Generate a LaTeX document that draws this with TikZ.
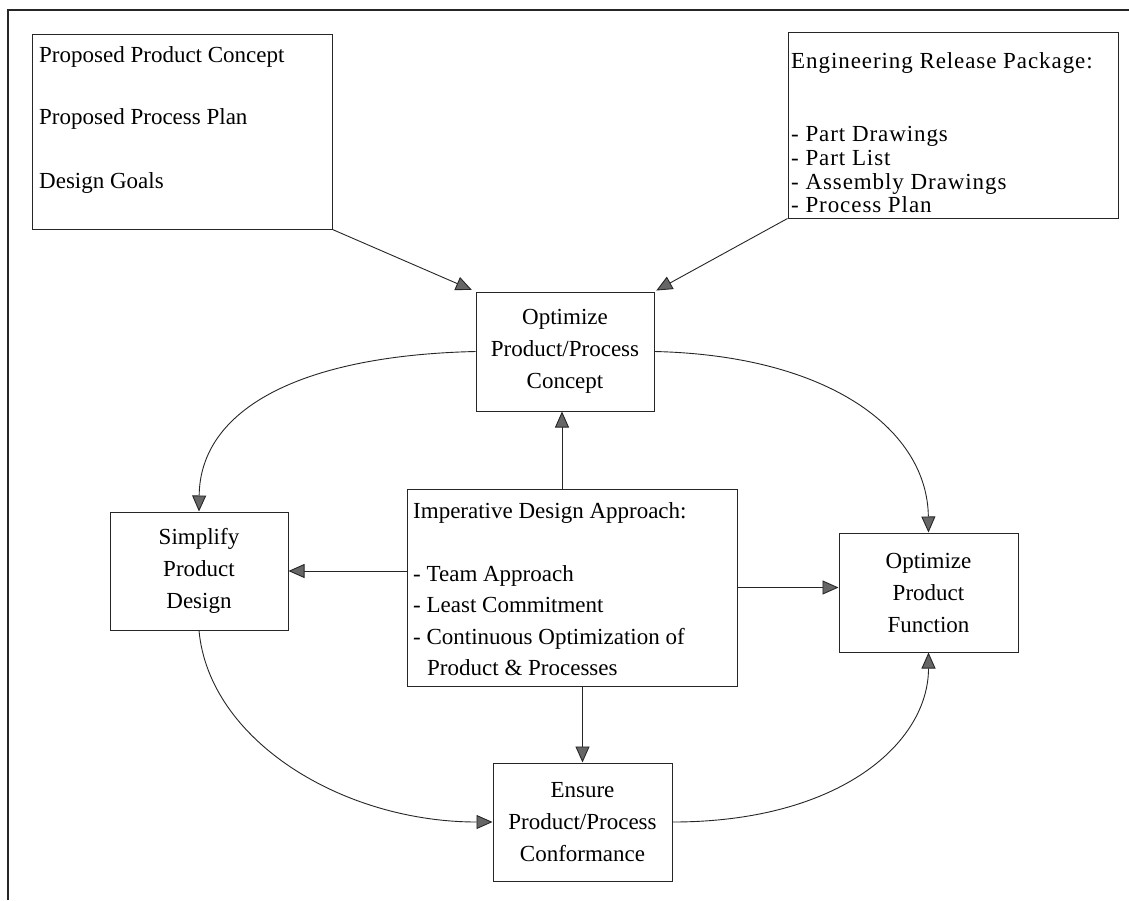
\documentclass[tikz,border=0pt]{standalone}
\usepackage{fontspec}
\setmainfont{Liberation Serif}
\usetikzlibrary{arrows.meta}
\begin{document}
\begin{tikzpicture}[x=1pt,y=-1pt,
  box/.style={draw=black!85, line width=1pt, rectangle, inner sep=0pt,
    font=\fontsize{23}{32}\selectfont, align=center},
  lbl/.style={anchor=base west, inner sep=0pt, font=\fontsize{23}{28}\selectfont},
  wide/.style={font=\fontsize{23}{28}\selectfont\addfontfeatures{LetterSpace=4}},
  conn/.style={draw=black!85, line width=0.9pt,
    -{Triangle[length=16pt,width=14pt,fill=black!60]}}]
\useasboundingbox (0,0) rectangle (1129,900);
\fill[white] (0,0) rectangle (1129,900);
\draw[black!85, line width=1.2pt] (8,900) -- (8,10) -- (1129,10);

% boxes
\node[box, minimum width=300pt, minimum height=195pt] (b1) at (182,131.5) {};
\node[box, minimum width=330pt, minimum height=186pt] (b2) at (953,125) {};
\node[box, minimum width=178pt, minimum height=119pt] (concept) at (565,351.5)
  {Optimize\\Product/Process\\Concept};
\node[box, minimum width=178pt, minimum height=118pt] (simp) at (199,571)
  {Simplify\\Product\\Design};
\node[box, minimum width=330pt, minimum height=197pt] (imp) at (572,587.5) {};
\node[box, minimum width=179pt, minimum height=119pt] (func) at (928.5,592.5)
  {Optimize\\Product\\Function};
\node[box, minimum width=179pt, minimum height=118pt] (ens) at (582.5,822)
  {Ensure\\Product/Process\\Conformance};

% texts of box 1
\node[lbl] (t1a) at (39,62) {Proposed Product Concept};
\node[lbl] (t1b) at (39,124) {Proposed Process Plan};
\node[lbl] (t1c) at (39,188) {Design Goals};

% texts of box 2
\node[lbl, wide] (t2a) at (791,68) {Engineering Release Package:};
\node[lbl, wide] (t2b) at (791,141) {- Part Drawings};
\node[lbl, wide] (t2c) at (791,165) {- Part List};
\node[lbl, wide] (t2d) at (791,189) {- Assembly Drawings};
\node[lbl, wide] (t2e) at (791,212) {- Process Plan};

% texts of imperative box
\node[lbl] (tia) at (413,518) {Imperative Design Approach:};
\node[lbl] (tib) at (413,581) {- Team Approach};
\node[lbl] (tic) at (413,612) {- Least Commitment};
\node[lbl] (tid) at (413,644) {- Continuous Optimization of};
\node[lbl] (tie) at (427,675) {Product \& Processes};

% connectors
\draw[conn, shorten >=4pt] (b1.south east) -- (concept.north west);
\draw[conn, shorten >=2pt] (b2.south west) -- (concept.north east);
\draw[conn] ([xshift=-10pt]imp.north) -- ([xshift=-3pt]concept.south);
\draw[conn] (imp.west |- simp.east) -- (simp.east);
\draw[conn] (imp.east) -- (imp.east -| func.west);
\draw[conn] (ens.north |- imp.south) -- (ens.north);

\draw[conn] (concept.west) .. controls +(-176,4) and +(1,-102) .. (simp.north);
\draw[conn] (concept.east) .. controls +(176,4) and +(-1,-102) .. (func.north);
\draw[conn] (simp.south) .. controls +(10,110) and +(-150,0) .. (ens.west);
\draw[conn] (ens.east) .. controls +(168,0) and +(0,90) .. (func.south);
\end{tikzpicture}
\end{document}
